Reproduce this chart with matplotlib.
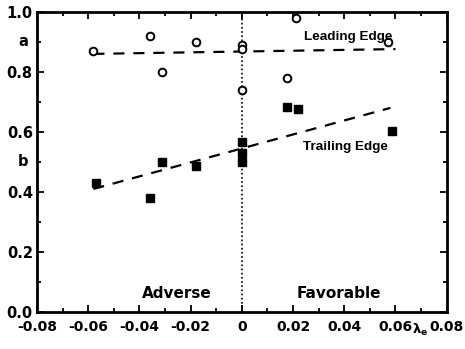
import matplotlib
matplotlib.use("Agg")
import matplotlib.pyplot as plt
from matplotlib.ticker import MultipleLocator

# leading edge (open circles)
lead_x = [-0.058, -0.036, -0.031, -0.018, 0.0, 0.0, 0.0, 0.0176, 0.021, 0.057]
lead_y = [0.87, 0.92, 0.80, 0.90, 0.89, 0.875, 0.74, 0.78, 0.98, 0.90]

# trailing edge (filled squares)
trail_x = [-0.057, -0.036, -0.031, -0.018, 0.0, 0.0, 0.0, 0.0176, 0.022, 0.0586]
trail_y = [0.43, 0.38, 0.50, 0.487, 0.567, 0.53, 0.50, 0.683, 0.677, 0.603]

# dashed fit lines
lead_fit_x = [-0.058, 0.06]
lead_fit_y = [0.86, 0.876]
trail_fit_x = [-0.058, 0.058]
trail_fit_y = [0.41, 0.68]

xticks = [-0.08, -0.06, -0.04, -0.02, 0.0, 0.02, 0.04, 0.06, 0.08]
xticklabels = ["-0.08", "-0.06", "-0.04", "-0.02", "0", "0.02", "0.04", "0.06", "0.08"]
yticks = [0.0, 0.2, 0.4, 0.6, 0.8, 1.0]
yticklabels = ["0.0", "0.2", "0.4", "0.6", "0.8", "1.0"]

plt.rcParams['font.family'] = ['DejaVu Sans']
plt.rcParams['font.weight'] = 'bold'

fig = plt.figure(figsize=(4.65, 3.49), dpi=100)
ax = fig.add_axes([0.0796, 0.106, 0.881, 0.86])

ax.axvline(0, color='black', linestyle=(0, (1, 1.5)), linewidth=1.2)
ax.plot(lead_fit_x, lead_fit_y, color='black', linestyle=(0, (5, 4)), linewidth=1.6)
ax.plot(trail_fit_x, trail_fit_y, color='black', linestyle=(0, (5, 4)), linewidth=1.6)
ax.plot(lead_x, lead_y, 'o', markerfacecolor='white', markeredgecolor='black',
        markersize=5.5, markeredgewidth=1.4, linestyle='none')
ax.plot(trail_x, trail_y, 's', color='black', markersize=5.5, linestyle='none')

ax.set_xlim(-0.08, 0.08)
ax.set_ylim(0, 1.0)
ax.set_xticks(xticks)
ax.set_xticklabels(xticklabels, fontsize=10, fontweight='bold')
ax.set_yticks(yticks)
ax.set_yticklabels(yticklabels, fontsize=10.5, fontweight='bold')
ax.xaxis.set_minor_locator(MultipleLocator(0.01))
ax.yaxis.set_minor_locator(MultipleLocator(0.1))
ax.tick_params(which='both', direction='in', top=True, right=True, width=1.3)
ax.tick_params(which='major', length=5)
ax.tick_params(which='minor', length=3)
ax.tick_params(axis='x', which='major', pad=6)
ax.tick_params(axis='y', which='major', pad=3)
for s in ax.spines.values():
    s.set_linewidth(2)

ax.text(-0.0835, 0.9, "a", ha='right', va='center', fontsize=10.5, fontweight='bold')
ax.text(-0.0835, 0.5, "b", ha='right', va='center', fontsize=10.5, fontweight='bold')
ax.text(0.0242, 0.917, "Leading Edge", fontsize=9.7, va='center',
        family='Liberation Sans', fontweight='bold')
ax.text(0.0238, 0.55, "Trailing Edge", fontsize=9.7, va='center',
        family='Liberation Sans', fontweight='bold')
ax.text(-0.0254, 0.063, "Adverse", fontsize=11, ha='center', va='center')
ax.text(0.038, 0.063, "Favorable", fontsize=11, ha='center', va='center')
ax.text(0.0696, -0.06, r"$\mathbf{\lambda_e}$", fontsize=9.5, ha='center', va='center')

fig.savefig("out.png", dpi=100)
